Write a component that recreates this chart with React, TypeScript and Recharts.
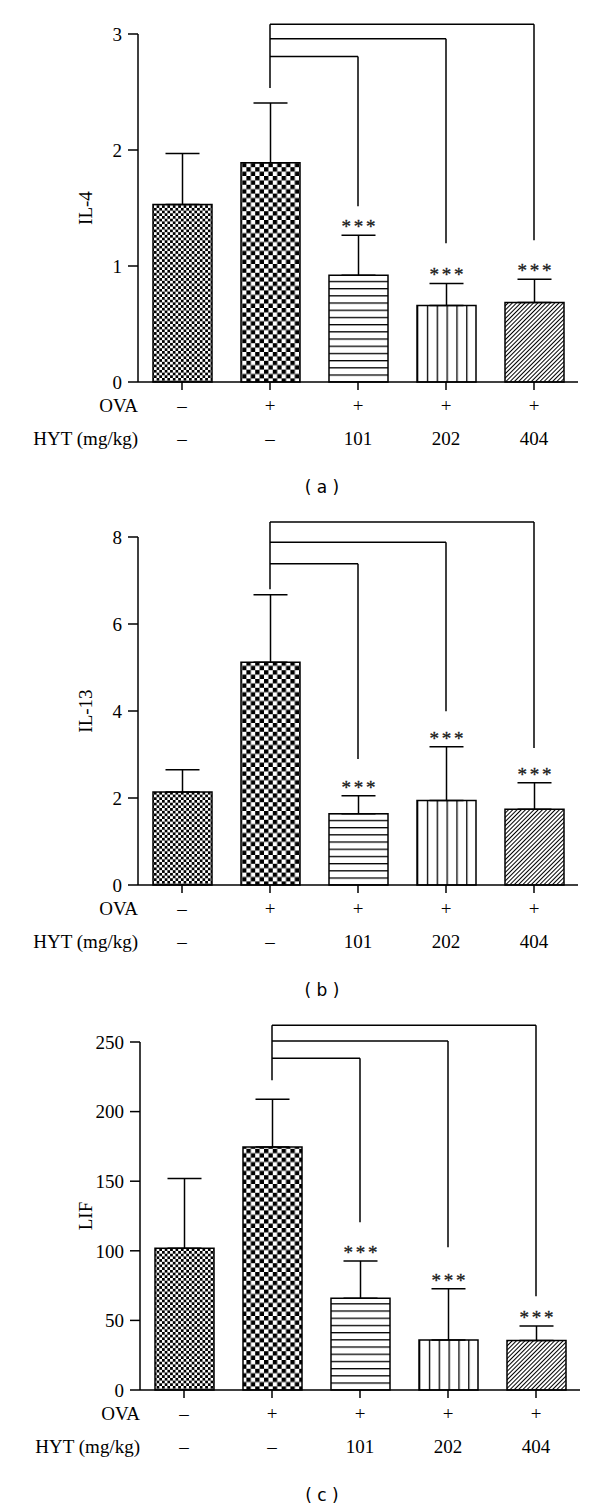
import React from 'react';
import {
  BarChart,
  Bar,
  Cell,
  XAxis,
  YAxis,
  ErrorBar,
  ReferenceLine,
  ReferenceDot,
} from 'recharts';

// ---- data ----
const groups = ['ctrl', 'ova', 'hyt101', 'hyt202', 'hyt404'];
const ovaLabels = ['\u2013', '+', '+', '+', '+'];
const hytLabels = ['\u2013', '\u2013', '101', '202', '404'];
const significance = ['', '', '***', '***', '***'];

const il4Mean = [1.53, 1.89, 0.92, 0.66, 0.685];
const il4Sd = [0.44, 0.515, 0.345, 0.19, 0.2];
const il4Ticks = [0, 1, 2, 3];
// bracket heights (data units) from the OVA group to each HYT group
const il4BracketLevels = [2.805, 2.96, 3.083];
const il4BracketEnds = [1.515, 1.197, 1.223];
const il4BracketStart = 2.534;

const il13Mean = [2.14, 5.12, 1.64, 1.94, 1.74];
const il13Sd = [0.51, 1.55, 0.41, 1.24, 0.61];
const il13Ticks = [0, 2, 4, 6, 8];
const il13BracketLevels = [7.387, 7.878, 8.346];
const il13BracketEnds = [2.896, 3.992, 3.149];
const il13BracketStart = 6.796;

const lifMean = [101.8, 174.6, 66, 35.9, 35.5];
const lifSd = [50.2, 34.2, 26.7, 36.9, 10.5];
const lifTicks = [0, 50, 100, 150, 200, 250];
const lifBracketLevels = [238.3, 250.7, 262.0];
const lifBracketEnds = [120.5, 102.5, 67.3];
const lifBracketStart = 222.5;

const SERIF = '"Liberation Serif", "Times New Roman", serif';
const SANS = '"DejaVu Sans", Verdana, sans-serif';
const FONT_SIZE = 19;

const PANEL_H = 504;
const PLOT_TOP = 34;
const X_AXIS_H = 122;

function Patterns({ id }: { id: string }) {
  return (
    <defs>
      <pattern id={`${id}-p0`} patternUnits="userSpaceOnUse" width={5.4} height={5.4}>
        <rect width={5.4} height={5.4} fill="#fff" />
        <rect x={0} y={0} width={2.7} height={2.7} fill="#000" />
        <rect x={2.7} y={2.7} width={2.7} height={2.7} fill="#000" />
      </pattern>
      <pattern id={`${id}-p1`} patternUnits="userSpaceOnUse" width={8.8} height={8.8}>
        <rect width={8.8} height={8.8} fill="#fff" />
        <rect x={0} y={0} width={4.4} height={4.4} fill="#000" />
        <rect x={4.4} y={4.4} width={4.4} height={4.4} fill="#000" />
      </pattern>
      <pattern id={`${id}-p2`} patternUnits="userSpaceOnUse" width={10} height={7.2}>
        <rect width={10} height={7.2} fill="#fff" />
        <rect x={0} y={0} width={10} height={1.3} fill="#000" />
      </pattern>
      <pattern id={`${id}-p3`} patternUnits="objectBoundingBox" width={1 / 6} height={1}>
        <rect width={20} height={2000} fill="#fff" />
        <rect x={0} y={0} width={1.3} height={2000} fill="#000" />
      </pattern>
      <pattern
        id={`${id}-p4`}
        patternUnits="userSpaceOnUse"
        width={3}
        height={10}
        patternTransform="rotate(45)"
      >
        <rect width={3} height={10} fill="#fff" />
        <rect x={0} y={0} width={1} height={10} fill="#000" />
      </pattern>
    </defs>
  );
}

interface PanelProps {
  id: string;
  yLabel: string;
  caption: string;
  means: number[];
  sds: number[];
  ticks: number[];
  levels: number[];
  ends: number[];
  start: number;
  yAxisWidth: number;
  rightMargin: number;
}

function Panel({
  id,
  yLabel,
  caption,
  means,
  sds,
  ticks,
  levels,
  ends,
  start,
  yAxisWidth,
  rightMargin,
}: PanelProps) {
  const data = groups.map((g, i) => ({ group: g, mean: means[i], err: [0, sds[i]] }));
  const maxY = ticks[ticks.length - 1];
  const topLevel = Math.max(...levels);

  const renderTick = (props: any) => {
    const { x, y, payload } = props;
    const i = groups.indexOf(payload.value);
    const textStyle = { fontFamily: SERIF, fontSize: FONT_SIZE, fill: '#000' };
    return (
      <g>
        <text x={x} y={y + 22} textAnchor="middle" {...textStyle}>
          {ovaLabels[i]}
        </text>
        <text x={x} y={y + 55} textAnchor="middle" {...textStyle}>
          {hytLabels[i]}
        </text>
        {i === 0 && (
          <>
            <text x={yAxisWidth} y={y + 22} textAnchor="end" {...textStyle}>
              OVA
            </text>
            <text x={yAxisWidth} y={y + 55} textAnchor="end" {...textStyle}>
              HYT (mg/kg)
            </text>
          </>
        )}
      </g>
    );
  };

  const line = { stroke: '#000', strokeWidth: 1.5 };

  return (
    <div style={{ position: 'relative', width: 600, height: PANEL_H }}>
      <BarChart
        width={600}
        height={PANEL_H}
        data={data}
        margin={{ top: PLOT_TOP, right: rightMargin, bottom: 0, left: 0 }}
        barSize={59}
      >
        <Patterns id={id} />
        <XAxis
          dataKey="group"
          height={X_AXIS_H}
          interval={0}
          tickSize={8}
          tickMargin={0}
          axisLine={line}
          tickLine={line}
          tick={renderTick}
        />
        <YAxis
          width={yAxisWidth}
          domain={[0, maxY]}
          ticks={ticks}
          interval={0}
          tickSize={10}
          tickMargin={6}
          axisLine={line}
          tickLine={line}
          tick={{ fontFamily: SERIF, fontSize: FONT_SIZE, fill: '#000' }}
          label={{
            value: yLabel,
            angle: -90,
            position: 'insideLeft',
            offset: 85,
            style: { textAnchor: 'middle', fontFamily: SERIF, fontSize: FONT_SIZE, fill: '#000' },
          }}
        />
        <Bar dataKey="mean" isAnimationActive={false}>
          {data.map((d, i) => (
            <Cell key={d.group} fill={`url(#${id}-p${i})`} stroke="#000" strokeWidth={1.5} />
          ))}
          <ErrorBar dataKey="err" width={17} stroke="#000" strokeWidth={1.5} direction="y" />
        </Bar>
        <ReferenceLine
          segment={[
            { x: groups[1], y: topLevel },
            { x: groups[1], y: start },
          ]}
          {...line}
          ifOverflow="visible"
        />
        {levels.map((lv, k) => (
          <ReferenceLine
            key={`h${k}`}
            segment={[
              { x: groups[1], y: lv },
              { x: groups[k + 2], y: lv },
            ]}
            {...line}
            ifOverflow="visible"
          />
        ))}
        {levels.map((lv, k) => (
          <ReferenceLine
            key={`v${k}`}
            segment={[
              { x: groups[k + 2], y: lv },
              { x: groups[k + 2], y: ends[k] },
            ]}
            {...line}
            ifOverflow="visible"
          />
        ))}
        {groups.map((g, i) =>
          significance[i] ? (
            <ReferenceDot
              key={`s${g}`}
              x={g}
              y={means[i] + sds[i]}
              r={1}
              fill="none"
              stroke="none"
              ifOverflow="visible"
              label={{
                position: 'top',
                content: (p: any) => {
                  const vb = p.viewBox;
                  return (
                    <text
                      x={vb.x + vb.width / 2}
                      y={vb.y - 1}
                      textAnchor="middle"
                      fontFamily={SERIF}
                      fontSize={19}
                      letterSpacing={-1}
                      fill="#1a1a1a"
                      stroke="#1a1a1a"
                      strokeWidth={0.3}
                    >
                      * * *
                    </text>
                  );
                },
              }}
            />
          ) : null
        )}
      </BarChart>
      <div
        style={{
          position: 'absolute',
          left: 272,
          width: 100,
          top: 477,
          textAlign: 'center',
          fontFamily: SANS,
          fontSize: 17,
          lineHeight: '20px',
          color: '#000',
        }}
      >
        {caption}
      </div>
    </div>
  );
}

export default function App() {
  return (
    <div
      style={{
        position: 'absolute',
        left: 0,
        top: 0,
        width: 600,
        height: 1512,
        background: '#fff',
      }}
    >
      <div style={{ position: 'absolute', left: 0, top: 0 }}>
        <Panel
          id="a"
          yLabel="IL-4"
          caption="( a )"
          means={il4Mean}
          sds={il4Sd}
          ticks={il4Ticks}
          levels={il4BracketLevels}
          ends={il4BracketEnds}
          start={il4BracketStart}
          yAxisWidth={138}
          rightMargin={22}
        />
      </div>
      <div style={{ position: 'absolute', left: 0, top: 503 }}>
        <Panel
          id="b"
          yLabel="IL-13"
          caption="( b )"
          means={il13Mean}
          sds={il13Sd}
          ticks={il13Ticks}
          levels={il13BracketLevels}
          ends={il13BracketEnds}
          start={il13BracketStart}
          yAxisWidth={138}
          rightMargin={22}
        />
      </div>
      <div style={{ position: 'absolute', left: 0, top: 1008 }}>
        <Panel
          id="c"
          yLabel="LIF"
          caption="( c )"
          means={lifMean}
          sds={lifSd}
          ticks={lifTicks}
          levels={lifBracketLevels}
          ends={lifBracketEnds}
          start={lifBracketStart}
          yAxisWidth={140}
          rightMargin={20}
        />
      </div>
    </div>
  );
}
